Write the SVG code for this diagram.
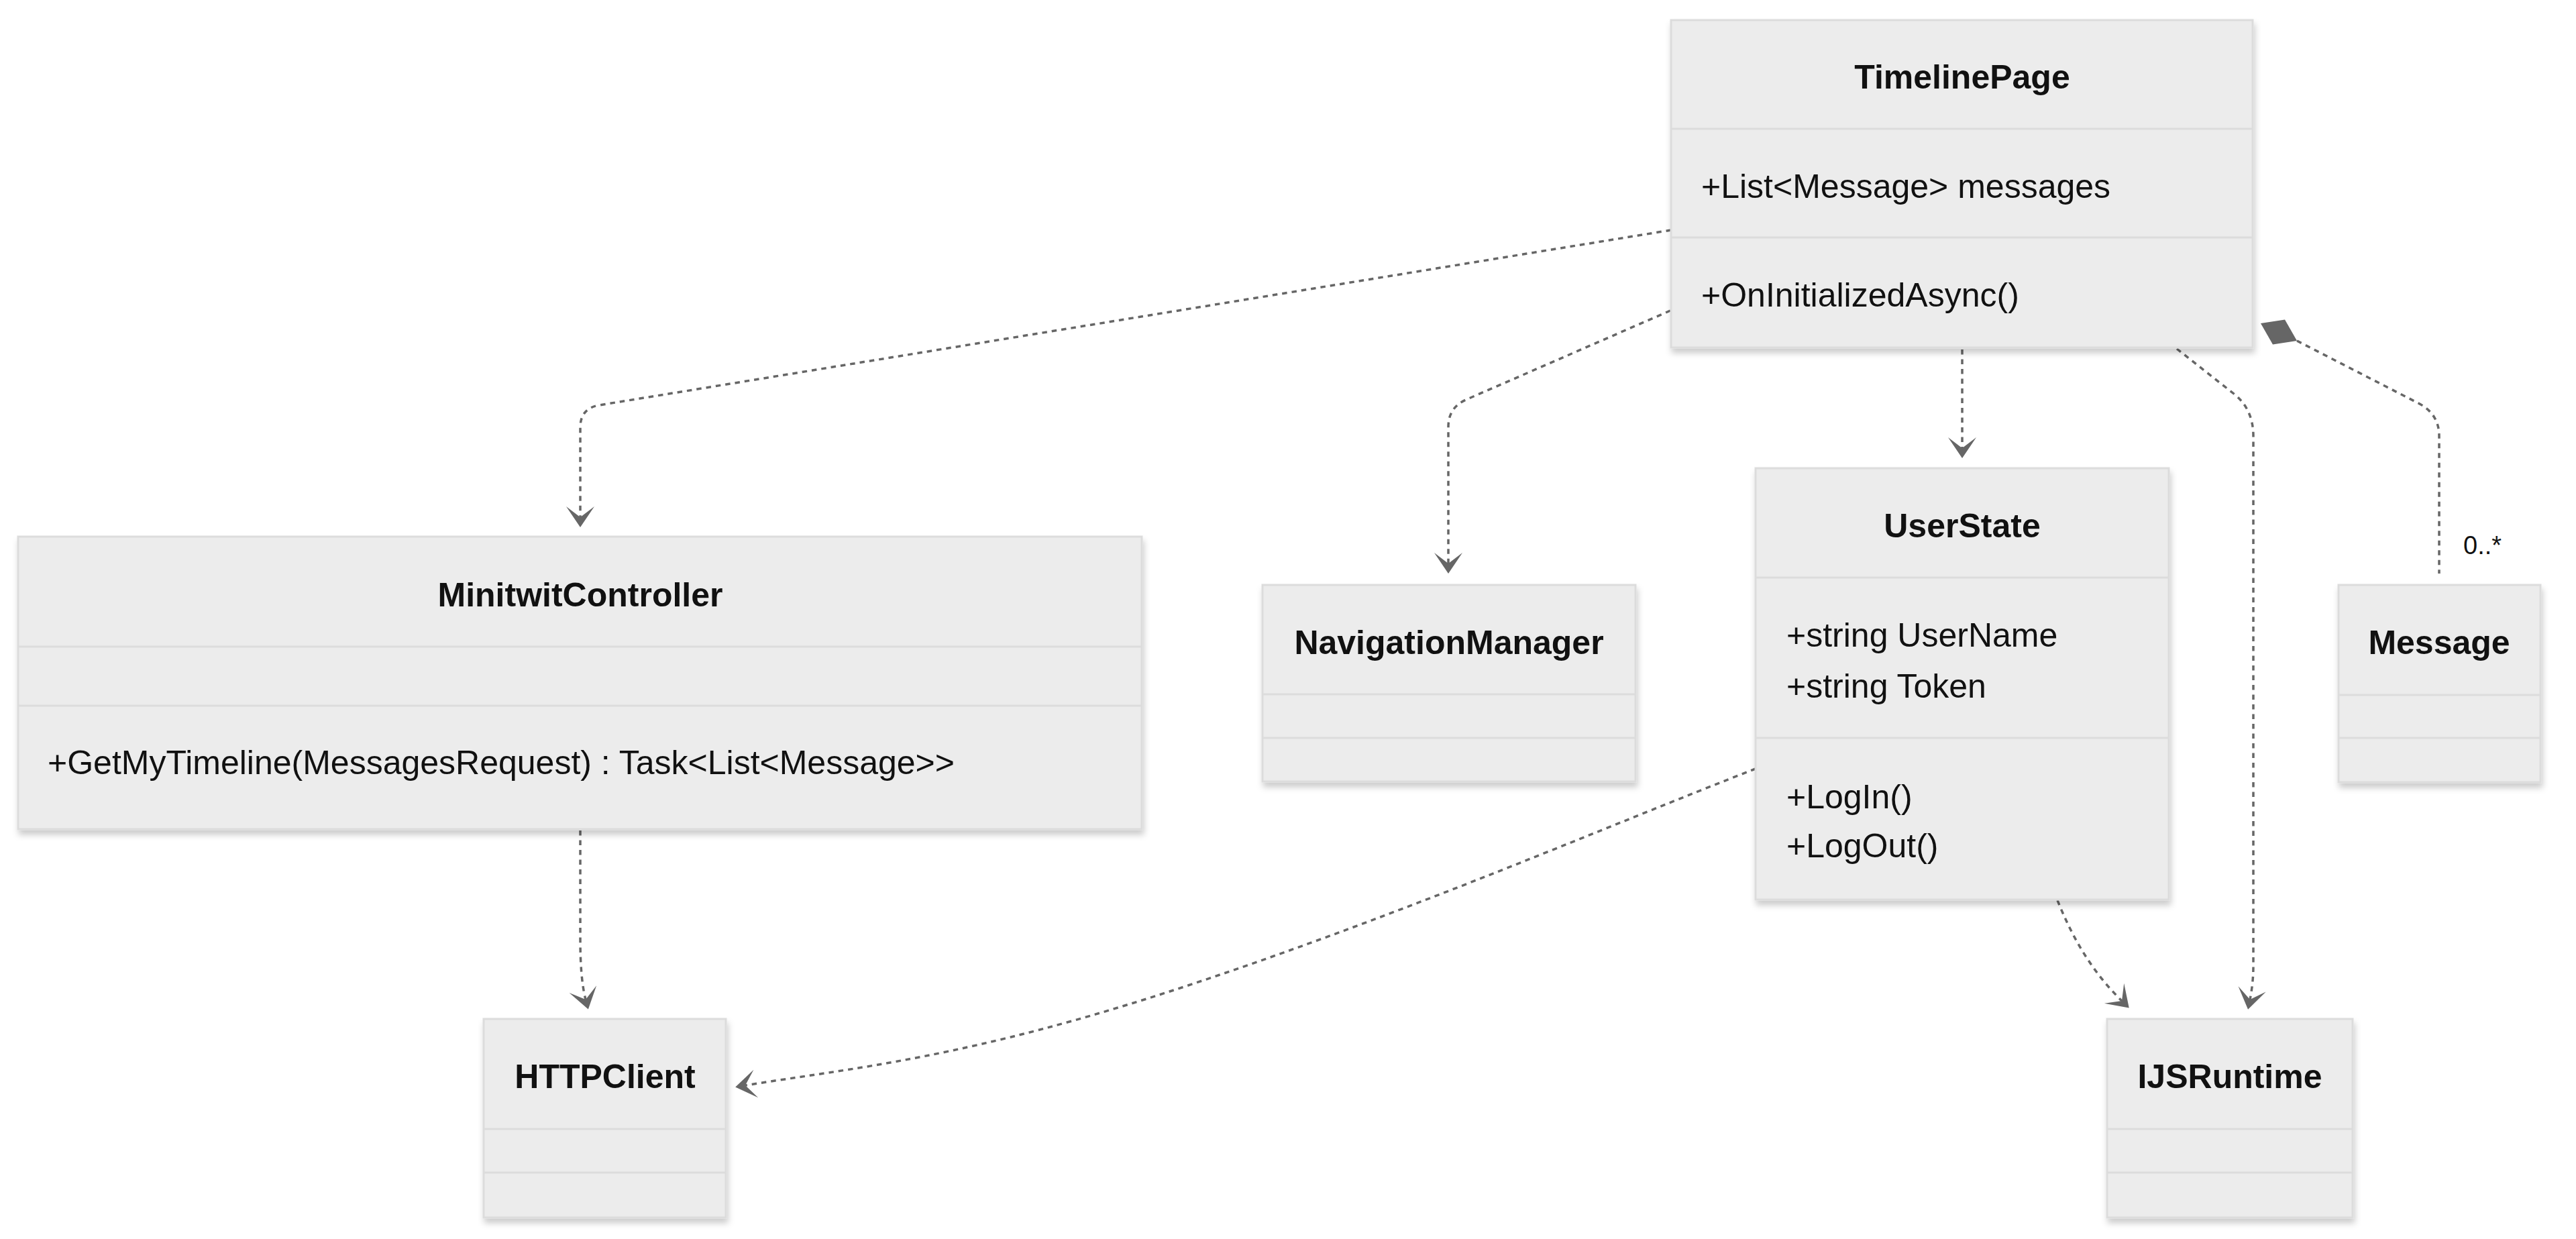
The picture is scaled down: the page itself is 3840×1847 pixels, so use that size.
<svg xmlns="http://www.w3.org/2000/svg" width="3840" height="1847" viewBox="0 0 3840 1847">
<style>
.box{fill:#ececec;stroke:#dcdcdc;stroke-width:3;filter:url(#sh)}
.div{stroke:#dcdcdc;stroke-width:3}
.title{font-family:"Liberation Sans",Arial,sans-serif;font-weight:bold;font-size:50px;fill:#111;text-anchor:middle}
.member{font-family:"Liberation Sans",Arial,sans-serif;font-size:50px;fill:#111}
.label{font-family:"Liberation Sans",Arial,sans-serif;font-size:38px;fill:#111}
.edge{fill:none;stroke:#666;stroke-width:3.5;stroke-dasharray:7.5 7}
.dep{marker-end:url(#dep)}
</style>
<defs>
<filter id="sh" x="-10%" y="-10%" width="120%" height="130%">
<feDropShadow dx="2" dy="7" stdDeviation="5" flood-color="#000" flood-opacity="0.2"/>
</filter>
<marker id="dep" markerUnits="userSpaceOnUse" viewBox="-17 -22 33 44" refX="0" refY="0" markerWidth="33" markerHeight="44" orient="auto">
<path d="M0,0 L-16,-21 L15,0 L-16,21 Z" fill="#666"/>
</marker>
</defs>
<rect width="3840" height="1847" fill="#fff"/>

<g id="connectors">
<path class="edge dep" d="M2491,343 L893,604 Q865,609 865,637 L865,771"/>
<path class="edge dep" d="M2490,463 L2185,596 Q2159,608 2159,636 L2159,840"/>
<path class="edge dep" d="M2925,521 L2925,668"/>
<path class="edge dep" d="M3245,520 L3330,587 Q3359,610 3359,650 L3359,1440 Q3359,1465 3354,1490"/>
<path class="edge" d="M3424,508 L3605,601 Q3636,617 3636,650 L3636,855"/>
<polygon points="3370,482 3406,476.5 3424,508 3388,513.5" fill="#666"/>
<text class="label" x="3672" y="826">0..*</text>
<path class="edge dep" d="M2617,1146 C2400,1230 2100,1360 1771,1469 S1270,1592 1111,1618"/>
<path class="edge dep" d="M3067,1342 C3090,1400 3120,1450 3163,1492"/>
<path class="edge dep" d="M865,1238 L865,1400 Q865,1460 873,1490"/>
</g>

<g id="TimelinePage">
<rect class="box" x="2491" y="30" width="867" height="488"/>
<line class="div" x1="2491" y1="192" x2="3358" y2="192"/>
<line class="div" x1="2491" y1="354" x2="3358" y2="354"/>
<text class="title" x="2925" y="132">TimelinePage</text>
<text class="member" x="2536" y="295">+List&lt;Message&gt; messages</text>
<text class="member" x="2536" y="457">+OnInitializedAsync()</text>
</g>

<g id="MinitwitController">
<rect class="box" x="27" y="800" width="1675" height="436"/>
<line class="div" x1="27" y1="964" x2="1702" y2="964"/>
<line class="div" x1="27" y1="1052" x2="1702" y2="1052"/>
<text class="title" x="865" y="904">MinitwitController</text>
<text class="member" x="71" y="1154">+GetMyTimeline(MessagesRequest) : Task&lt;List&lt;Message&gt;&gt;</text>
</g>

<g id="NavigationManager">
<rect class="box" x="1882" y="872" width="556" height="293"/>
<line class="div" x1="1882" y1="1035" x2="2438" y2="1035"/>
<line class="div" x1="1882" y1="1100" x2="2438" y2="1100"/>
<text class="title" x="2160" y="975">NavigationManager</text>
</g>

<g id="UserState">
<rect class="box" x="2617" y="698" width="616" height="643"/>
<line class="div" x1="2617" y1="861" x2="3233" y2="861"/>
<line class="div" x1="2617" y1="1100" x2="3233" y2="1100"/>
<text class="title" x="2925" y="801">UserState</text>
<text class="member" x="2663" y="964">+string UserName</text>
<text class="member" x="2663" y="1040">+string Token</text>
<text class="member" x="2663" y="1205">+LogIn()</text>
<text class="member" x="2663" y="1278">+LogOut()</text>
</g>

<g id="Message">
<rect class="box" x="3486" y="872" width="301" height="294"/>
<line class="div" x1="3486" y1="1036" x2="3787" y2="1036"/>
<line class="div" x1="3486" y1="1100" x2="3787" y2="1100"/>
<text class="title" x="3636" y="975">Message</text>
</g>

<g id="HTTPClient">
<rect class="box" x="721" y="1519" width="361" height="296"/>
<line class="div" x1="721" y1="1683" x2="1082" y2="1683"/>
<line class="div" x1="721" y1="1748" x2="1082" y2="1748"/>
<text class="title" x="902" y="1622">HTTPClient</text>
</g>

<g id="IJSRuntime">
<rect class="box" x="3141" y="1519" width="366" height="296"/>
<line class="div" x1="3141" y1="1683" x2="3507" y2="1683"/>
<line class="div" x1="3141" y1="1748" x2="3507" y2="1748"/>
<text class="title" x="3324" y="1622">IJSRuntime</text>
</g>
</svg>
